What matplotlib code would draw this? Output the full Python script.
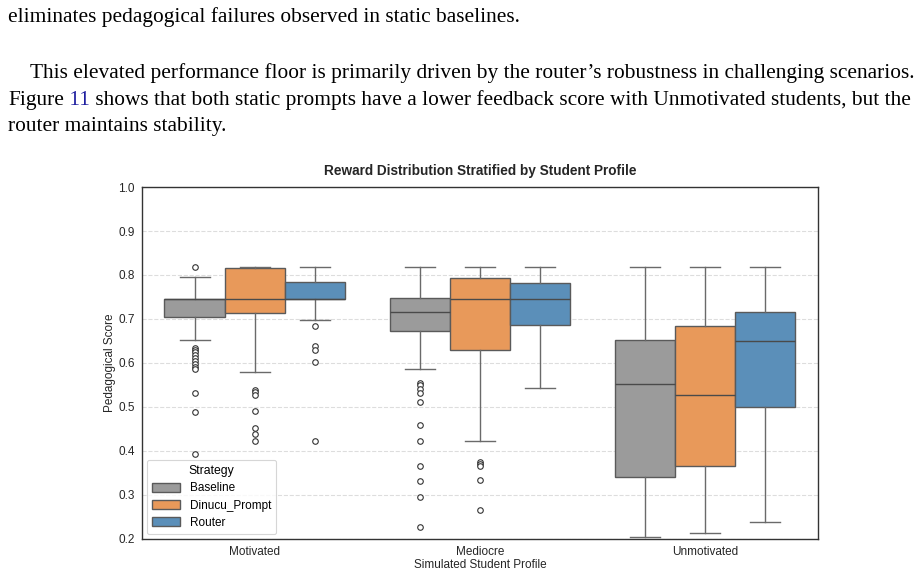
import matplotlib
matplotlib.use("Agg")
import matplotlib.pyplot as plt
from matplotlib.patches import Patch

# data (five-number summaries + outliers)
profiles = ["Motivated", "Mediocre", "Unmotivated"]
strategies = ["Baseline", "Dinucu_Prompt", "Router"]
colors = ["#9b9b9b", "#e8995a", "#5b8fb9"]

# [profile][strategy]
q1 = [[0.705, 0.713, 0.745], [0.673, 0.630, 0.686], [0.340, 0.367, 0.499]]
med = [[0.745, 0.745, 0.745], [0.717, 0.745, 0.745], [0.552, 0.527, 0.649]]
q3 = [[0.745, 0.817, 0.783], [0.747, 0.794, 0.782], [0.652, 0.683, 0.716]]
wlo = [[0.652, 0.580, 0.697], [0.586, 0.423, 0.543], [0.204, 0.214, 0.239]]
whi = [[0.795, 0.818, 0.818], [0.818, 0.818, 0.818], [0.818, 0.818, 0.818]]
outliers = [
    [[0.818, 0.635, 0.630, 0.624, 0.618, 0.611, 0.605, 0.598, 0.592, 0.586, 0.532, 0.488, 0.393],
     [0.539, 0.533, 0.527, 0.492, 0.453, 0.439, 0.423],
     [0.683, 0.639, 0.630, 0.602, 0.423]],
    [[0.554, 0.549, 0.542, 0.531, 0.511, 0.458, 0.423, 0.367, 0.331, 0.296, 0.228],
     [0.374, 0.371, 0.367, 0.334, 0.266],
     []],
    [[], [], []],
]

paragraph_font = "Liberation Serif"
chart_font = "Liberation Sans"

fig = plt.figure(figsize=(9.23, 5.77), dpi=100)
ax = fig.add_axes([0.1538, 0.0659, 0.7324, 0.6100])

width = 0.8 / len(strategies)
for i, prof in enumerate(profiles):
    for j, strat in enumerate(strategies):
        pos = i + (j - 1) * width
        stats = [dict(med=med[i][j], q1=q1[i][j], q3=q3[i][j],
                      whislo=wlo[i][j], whishi=whi[i][j], fliers=outliers[i][j])]
        ax.bxp(stats, positions=[pos], widths=width, capwidths=width / 2,
               patch_artist=True, manage_ticks=False,
               boxprops=dict(facecolor=colors[j], edgecolor="#5a5a5a", linewidth=1.0),
               medianprops=dict(color="#4a4a4a", linewidth=1.0),
               whiskerprops=dict(color="#6a6a6a", linewidth=1.0),
               capprops=dict(color="#6a6a6a", linewidth=1.0),
               flierprops=dict(marker="o", markersize=4, markerfacecolor="white",
                               markeredgecolor="#333333", markeredgewidth=0.8))

ax.set_xlim(-0.5, 2.5)
ax.set_ylim(0.2, 1.0)
ax.set_xticks(range(len(profiles)))
ax.set_xticklabels(profiles, fontsize=8.5, family=chart_font, color="#262626")
ax.set_yticks([0.2, 0.3, 0.4, 0.5, 0.6, 0.7, 0.8, 0.9, 1.0])
ax.set_yticklabels([f"{v:.1f}" for v in ax.get_yticks()], fontsize=8.5,
                   family=chart_font, color="#262626")
ax.tick_params(length=0, pad=5)
ax.yaxis.grid(True, linestyle="--", color="#dddddd", linewidth=0.8)
ax.set_axisbelow(True)
for sp in ax.spines.values():
    sp.set_color("#333333")
    sp.set_linewidth(1.0)

ax.set_xlabel("Simulated Student Profile", fontsize=8.5, family=chart_font,
              color="#262626", labelpad=1)
ax.set_ylabel("Pedagogical Score", fontsize=8.5, family=chart_font,
              color="#262626", labelpad=2)
ax.set_title("Reward Distribution Stratified by Student Profile", fontsize=9.8,
             fontweight="bold", family=chart_font, color="#262626", pad=9)

handles = [Patch(facecolor=c, edgecolor="#5a5a5a", label=s) for c, s in zip(colors, strategies)]
leg = ax.legend(handles=handles, title="Strategy", loc="lower left",
                prop=dict(family=chart_font, size=8.5), title_fontproperties=dict(family=chart_font, size=8.8),
                frameon=True, fancybox=True, borderaxespad=0.4, handlelength=2.4,
                handleheight=0.8, labelspacing=0.45, borderpad=0.45)
leg.get_frame().set_edgecolor("#cccccc")
leg.get_frame().set_linewidth(0.8)

# paragraph text from the page above the figure
fs = 15.4
fig.text(8 / 923, 1 - 22 / 577, "eliminates pedagogical failures observed in static baselines.",
         family=paragraph_font, fontsize=fs, va="baseline")
fig.text(30 / 923, 1 - 78 / 577,
         "This elevated performance floor is primarily driven by the router\u2019s robustness in challenging scenarios.",
         family=paragraph_font, fontsize=fs, va="baseline")
fig.text(8 / 923, 1 - 131 / 577, "router maintains stability.",
         family=paragraph_font, fontsize=fs, va="baseline")

fig.canvas.draw()
r = fig.canvas.get_renderer()
x = 8 / 923
y = 1 - 105 / 577
for piece, col in [("Figure", "black"), (" 11", "#1f1fa0"),
                   (" shows that both static prompts have a lower feedback score with Unmotivated students, but the", "black")]:
    t = fig.text(x, y, piece, family=paragraph_font, fontsize=fs, va="baseline", color=col)
    bb = t.get_window_extent(renderer=r)
    x += bb.width / fig.bbox.width

fig.savefig("out.png", dpi=100)
